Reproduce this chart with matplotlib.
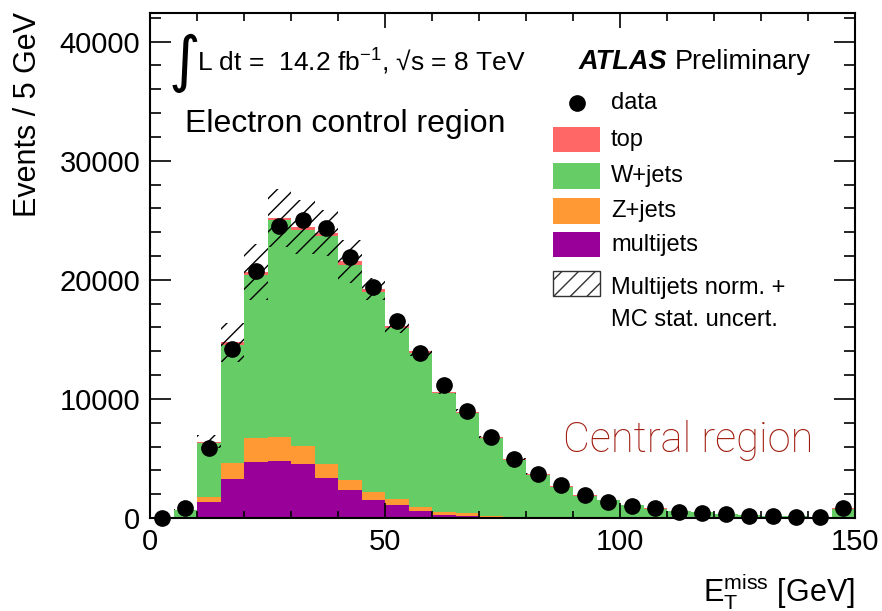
import numpy as np
import matplotlib
matplotlib.use("Agg")
import matplotlib.pyplot as plt
from matplotlib.patches import Rectangle
from matplotlib.ticker import MultipleLocator

plt.rcParams['font.family'] = ['Liberation Sans', 'DejaVu Sans']
plt.rcParams['mathtext.fontset'] = 'custom'
plt.rcParams['mathtext.rm'] = 'Liberation Sans'
plt.rcParams['mathtext.it'] = 'Liberation Sans:italic'
plt.rcParams['mathtext.bf'] = 'Liberation Sans:bold'
plt.rcParams['hatch.linewidth'] = 1.0

# E_T^miss bins, 5 GeV wide
edges = np.arange(0, 155, 5)

# stacked MC (events per bin)
multijets = [0, 40, 1370, 3280, 4730, 4820, 4540, 3330, 2350, 1510, 1090, 620, 250, 200, 100,
             40, 20, 10, 5, 5, 0, 0, 0, 0, 0, 0, 0, 0, 0, 0]
zjets = [0, 30, 420, 1310, 2020, 1960, 1510, 1210, 840, 700, 480, 280, 230, 190, 70,
         40, 30, 20, 15, 10, 8, 6, 5, 4, 3, 2, 2, 2, 1, 1]
wjets = [0, 600, 4480, 9950, 13670, 18210, 18100, 19100, 18070, 16730, 14360, 12930, 10010, 8430, 6510,
         4760, 3570, 2600, 1860, 1455, 1050, 780, 565, 460, 325, 240, 190, 190, 105, 790]
top = [0, 20, 140, 200, 200, 200, 280, 280, 280, 280, 200, 150, 130, 120, 100,
       90, 80, 60, 50, 40, 30, 25, 20, 15, 12, 10, 8, 8, 5, 20]
# multijet norm + MC stat uncertainty (half width of the hatched band)
uncert = [0, 60, 560, 1650, 2350, 2450, 2300, 1900, 1800, 920, 600, 400, 250, 200, 120,
          80, 50, 30, 25, 20, 15, 12, 10, 8, 6, 5, 5, 5, 4, 20]
data = [0, 810, 5860, 14170, 20700, 24480, 24980, 24340, 21900, 19390, 16500, 13840, 11180, 9020, 6780,
        4930, 3700, 2770, 1930, 1370, 1040, 810, 530, 390, 340, 200, 200, 110, 110, 810]

stack_order = [("multijets", multijets, "#990099"),
               ("Z+jets", zjets, "#ff9933"),
               ("W+jets", wjets, "#66cc66"),
               ("top", top, "#ff6666")]

fig = plt.figure(figsize=(8.82, 6.11), dpi=100)
ax = fig.add_axes([150 / 882, 93 / 611, 705 / 882, 505 / 611])

bottom = np.zeros(len(edges) - 1)
for name, vals, col in stack_order:
    upper = bottom + np.array(vals)
    ax.stairs(upper, edges, baseline=bottom, fill=True, color=col, linewidth=0, zorder=1)
    bottom = upper
total = bottom

unc = np.array(uncert)
ax.stairs(total + unc, edges, baseline=total - unc, fill=False, hatch='//',
          edgecolor='black', linewidth=0, zorder=1.5)

centers = 0.5 * (edges[:-1] + edges[1:])
ax.plot(centers, data, 'o', color='black', markersize=11, zorder=3, clip_on=False)

ax.set_xlim(0, 150)
ax.set_ylim(0, 42400)
ax.xaxis.set_major_locator(MultipleLocator(50))
ax.xaxis.set_minor_locator(MultipleLocator(10))
ax.yaxis.set_major_locator(MultipleLocator(10000))
ax.yaxis.set_minor_locator(MultipleLocator(2000))
ax.tick_params(axis='both', which='both', direction='in', top=True, right=True,
               labelsize=21, width=1.2, pad=7)
ax.tick_params(axis='x', which='major', length=10.8)
ax.tick_params(axis='x', which='minor', length=5.4)
ax.tick_params(axis='y', which='major', length=15.2)
ax.tick_params(axis='y', which='minor', length=7.6)
for sp in ax.spines.values():
    sp.set_linewidth(1.5)

fig.text(28 / 882, 1 - 12 / 611, "Events / 5 GeV", rotation=90, ha='center', va='top', fontsize=22)
fig.text(855 / 882, 1 - 592 / 611, r"$\mathrm{E}_{\mathrm{T}}^{\mathrm{miss}}$ [GeV]", ha='right',
         va='center', fontsize=22)

# labels inside the frame
ax.text(0.026, 0.90, "\u222b", transform=ax.transAxes, fontsize=44, va='center', ha='left',
        family='DejaVu Sans')
ax.text(0.066, 0.903, r"L dt =  14.2 fb$^{-1}$, " + "\u221as = 8 TeV", transform=ax.transAxes,
        fontsize=19, va='center', ha='left')
ax.text(0.05, 0.78, "Electron control region", transform=ax.transAxes, fontsize=23,
        va='center', ha='left')
ax.text(0.608, 0.903, "ATLAS", transform=ax.transAxes, fontsize=19.5, fontweight='bold',
        fontstyle='italic', va='center', ha='left')
ax.text(0.744, 0.903, "Preliminary", transform=ax.transAxes, fontsize=19.5, va='center', ha='left')
ax.text(0.586, 0.154, "Central region", transform=ax.transAxes, fontsize=30, color='#a01c0f',
        va='center', ha='left', family=['Roboto', 'Liberation Sans'], fontweight='light')

# legend, drawn by hand to keep the ROOT look
tr = ax.transAxes
box_x, box_w, box_h = 0.572, 0.067, 0.05
text_x = 0.654
ax.plot([0.605], [0.822], 'o', color='black', markersize=11, transform=tr)
ax.text(text_x, 0.822, "data", transform=tr, fontsize=17, va='center')
rows = [("top", "#ff6666", 0.749), ("W+jets", "#66cc66", 0.677),
        ("Z+jets", "#ff9933", 0.608), ("multijets", "#990099", 0.541)]
for lab, col, yc in rows:
    ax.add_patch(Rectangle((box_x, yc - box_h / 2), box_w, box_h, transform=tr,
                           facecolor=col, edgecolor='none'))
    ax.text(text_x, yc, lab, transform=tr, fontsize=17, va='center')
ax.add_patch(Rectangle((box_x, 0.465 - box_h / 2), box_w, box_h, transform=tr,
                       facecolor='white', edgecolor='#333333', hatch='//', linewidth=1))
ax.text(text_x, 0.455, "Multijets norm. +", transform=tr, fontsize=17, va='center')
ax.text(text_x, 0.392, "MC stat. uncert.", transform=tr, fontsize=17, va='center')

fig.savefig("out.png", dpi=100)
